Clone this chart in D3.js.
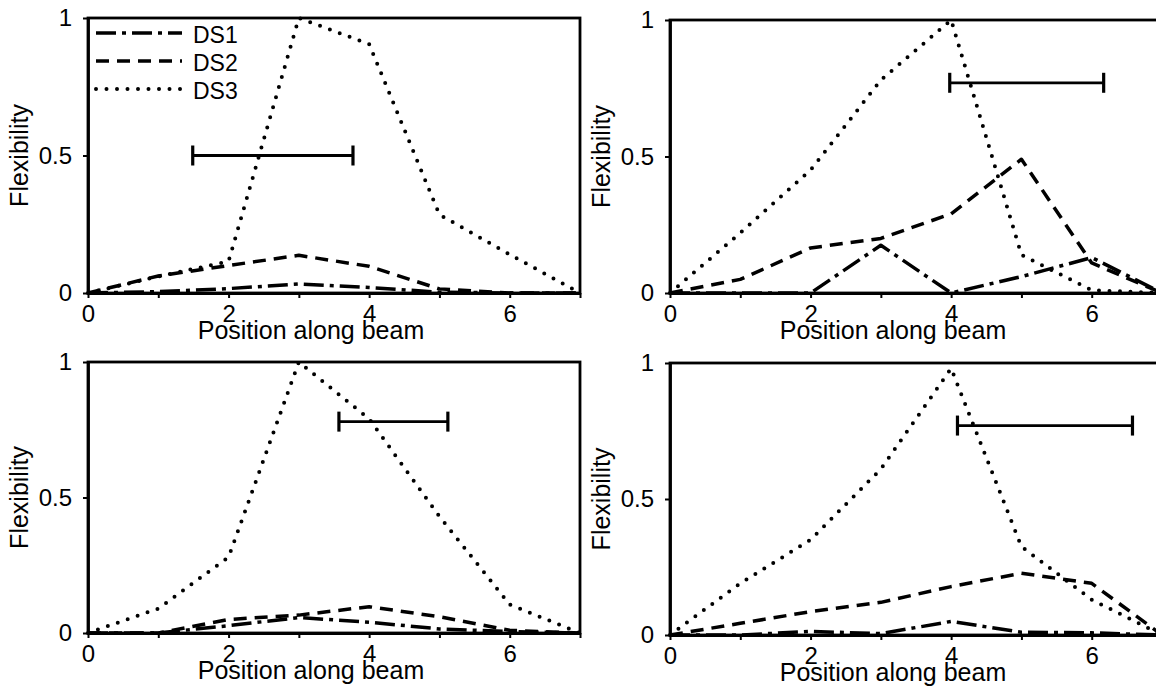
<!DOCTYPE html>
<html>
<head>
<meta charset="utf-8">
<script src="https://cdn.jsdelivr.net/npm/d3@7"></script>
<style>
  html, body { margin: 0; padding: 0; background: #fff; }
  svg { display: block; font-family: "Liberation Sans", Arial, Helvetica, sans-serif; }
</style>
</head>
<body>
<svg id="chart" width="1156" height="689"></svg>
<script>
// Positions along the beam (shared by every panel)
const positions = [0, 1, 2, 3, 4, 5, 6, 7];
const xTickValues = [0, 1, 2, 3, 4, 5, 6, 7];
const xTickLabels = ["0", "", "2", "", "4", "", "6", ""];
const yTickValues = [0, 0.5, 1];
const yTickLabels = ["0", "0.5", "1"];
const seriesNames = ["DS1", "DS2", "DS3"];

// Panel A (top left)
const panelA_DS1 = [0, 0.005, 0.016, 0.033, 0.02, 0.003, 0, 0];
const panelA_DS2 = [0, 0.062, 0.1, 0.137, 0.097, 0.015, 0, 0];
const panelA_DS3 = [0, 0.06, 0.115, 1.0, 0.905, 0.285, 0.14, 0];

// Panel B (top right)
const panelB_DS1 = [0, 0, 0, 0.175, 0, 0.06, 0.13, 0];
const panelB_DS2 = [0, 0.05, 0.165, 0.2, 0.29, 0.49, 0.11, 0];
const panelB_DS3 = [0, 0.22, 0.45, 0.78, 1.0, 0.14, 0.01, 0];

// Panel C (bottom left)
const panelC_DS1 = [0, 0, 0.027, 0.057, 0.04, 0.015, 0.005, 0];
const panelC_DS2 = [0, 0, 0.05, 0.066, 0.097, 0.06, 0.01, 0];
const panelC_DS3 = [0, 0.09, 0.28, 1.0, 0.79, 0.43, 0.105, 0];

// Panel D (bottom right)
const panelD_DS1 = [0, 0, 0.013, 0.005, 0.05, 0.01, 0.008, 0];
const panelD_DS2 = [0, 0.043, 0.086, 0.12, 0.178, 0.227, 0.19, 0];
const panelD_DS3 = [0, 0.19, 0.35, 0.61, 0.98, 0.325, 0.13, 0];

// Horizontal range bars (A, B, C, D)
const rangeLevel = [0.5, 0.77, 0.78, 0.77];
const rangeFrom  = [1.49, 3.98, 3.57, 4.09];
const rangeTo    = [3.77, 6.17, 5.12, 6.58];

// Layout of the 2x2 grid
const panels = [
  { left: 88,  top: 18,  bottom: 293, series: [panelA_DS1, panelA_DS2, panelA_DS3], legend: true },
  { left: 670, top: 20,  bottom: 293, series: [panelB_DS1, panelB_DS2, panelB_DS3], legend: false },
  { left: 88,  top: 362, bottom: 633, series: [panelC_DS1, panelC_DS2, panelC_DS3], legend: false },
  { left: 670, top: 363, bottom: 635, series: [panelD_DS1, panelD_DS2, panelD_DS3], legend: false }
];
const plotWidth = 492;

// Line styles: dash-dot, dashed, dotted
const styles = [
  { dash: "20,6,4,6", width: 3.5, cap: "butt" },
  { dash: "13,8", width: 3.5, cap: "butt" },
  { dash: "0,10.5", width: 4, cap: "round" }
];

const svg = d3.select("#chart");

panels.forEach((p, i) => {
  const x = d3.scaleLinear().domain([0, 7]).range([p.left, p.left + plotWidth]);
  const y = d3.scaleLinear().domain([0, 1]).range([p.bottom, p.top]);
  const g = svg.append("g");

  // frame
  g.append("rect")
    .attr("x", x(0)).attr("y", y(1))
    .attr("width", x(7) - x(0)).attr("height", y(0) - y(1))
    .attr("fill", "none").attr("stroke", "#000").attr("stroke-width", 2.8);

  // x axis
  const xAxis = g.append("g")
    .attr("transform", `translate(0,${y(0)})`)
    .call(d3.axisBottom(x)
      .tickValues(xTickValues)
      .tickFormat((d, k) => xTickLabels[k])
      .tickSize(5).tickSizeOuter(0).tickPadding(7));

  // y axis
  const yAxis = g.append("g")
    .attr("transform", `translate(${x(0)},0)`)
    .call(d3.axisLeft(y)
      .tickValues(yTickValues)
      .tickFormat((d, k) => yTickLabels[k])
      .tickSize(5).tickSizeOuter(0).tickPadding(11));

  [xAxis, yAxis].forEach(a => {
    a.select(".domain").attr("stroke", "#000").attr("stroke-width", 2.8);
    a.selectAll(".tick line").attr("stroke", "#000").attr("stroke-width", 2);
    a.selectAll(".tick text").attr("fill", "#000").attr("font-size", 24).attr("font-family", null);
  });

  // axis titles
  g.append("text")
    .attr("x", x(0) + 223).attr("y", y(0) + 46)
    .attr("text-anchor", "middle").attr("font-size", 25).attr("fill", "#000")
    .text("Position along beam");
  g.append("text")
    .attr("transform", `translate(${x(0) - 60},${(y(0) + y(1)) / 2}) rotate(-90)`)
    .attr("text-anchor", "middle").attr("font-size", 25).attr("fill", "#000")
    .text("Flexibility");

  // data series (dotted first, dash-dot on top)
  const line = d3.line().x((d, k) => x(positions[k])).y(d => y(d));
  [2, 1, 0].forEach(s => {
    g.append("path")
      .datum(p.series[s])
      .attr("d", line)
      .attr("fill", "none").attr("stroke", "#000")
      .attr("stroke-width", styles[s].width)
      .attr("stroke-dasharray", styles[s].dash)
      .attr("stroke-linecap", styles[s].cap)
      .attr("stroke-linejoin", "round");
  });

  // range bar with end caps
  const yl = y(rangeLevel[i]);
  const bar = g.append("g").attr("stroke", "#000").attr("stroke-width", 2.8);
  bar.append("line").attr("x1", x(rangeFrom[i])).attr("x2", x(rangeTo[i])).attr("y1", yl).attr("y2", yl);
  [rangeFrom[i], rangeTo[i]].forEach(v => {
    bar.append("line").attr("x1", x(v)).attr("x2", x(v)).attr("y1", yl - 10).attr("y2", yl + 10).attr("stroke-width", 3.2);
  });

  // legend
  if (p.legend) {
    const lg = g.append("g");
    seriesNames.forEach((name, s) => {
      const ly = 33 + s * 28;
      lg.append("line")
        .attr("x1", 96).attr("x2", 182).attr("y1", ly).attr("y2", ly)
        .attr("stroke", "#000")
        .attr("stroke-width", styles[s].width)
        .attr("stroke-dasharray", styles[s].dash)
        .attr("stroke-linecap", styles[s].cap);
      lg.append("text")
        .attr("x", 193).attr("y", ly + 10)
        .attr("font-size", 23).attr("fill", "#000")
        .text(name);
    });
  }
});
</script>
</body>
</html>
